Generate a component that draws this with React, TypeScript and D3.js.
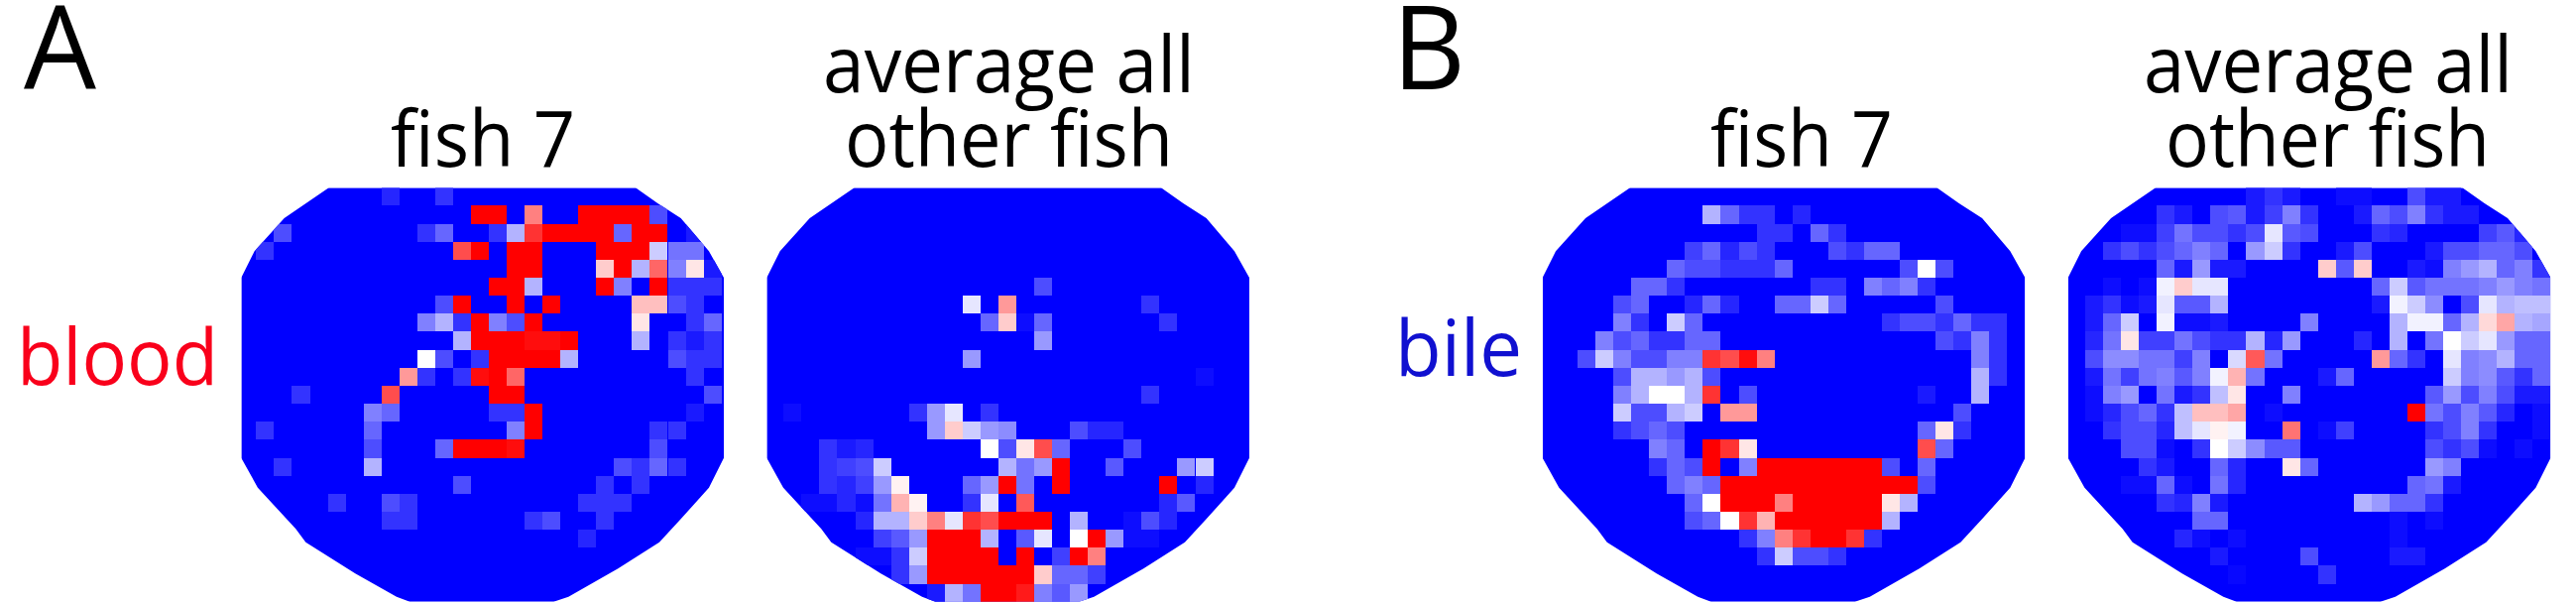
import * as d3 from "d3";

type Row = [number, number][];

// each row lists its non-zero cells as [column, level], level 0 = blue, 10 = white, 20 = red
const BLOOD_FISH: Row[] = [
  [[8, 1.5], [11, 2]],
  [[13, 20], [14, 20], [16, 15], [19, 20], [20, 20], [21, 20], [22, 20], [23, 3]],
  [[2, 3], [10, 2], [11, 4], [14, 2], [15, 7], [16, 18], [17, 20], [18, 20], [19, 20], [20, 20], [21, 4], [22, 20], [23, 20], [25, 1]],
  [[1, 2], [12, 17], [13, 20], [15, 20], [16, 20], [20, 20], [21, 20], [22, 20], [23, 8], [24, 4.5], [25, 4.5]],
  [[15, 20], [16, 20], [20, 12], [21, 20], [22, 7], [23, 16], [24, 5], [25, 11], [26, 1]],
  [[14, 20], [15, 20], [16, 7], [20, 20], [21, 5], [23, 20], [24, 2], [25, 2], [26, 2]],
  [[11, 3], [12, 20], [15, 20], [17, 20], [22, 12.5], [23, 12.5], [24, 3], [25, 2]],
  [[10, 5], [11, 7], [12, 2], [13, 20], [14, 5], [15, 3], [16, 20], [22, 11], [25, 2], [26, 4]],
  [[12, 7], [13, 20], [14, 20], [15, 20], [16, 19.5], [17, 19.5], [18, 20], [22, 7], [24, 2], [25, 1], [26, 2]],
  [[10, 10], [11, 3], [13, 2], [14, 20], [15, 20], [16, 20], [17, 20], [18, 7], [24, 3], [25, 2], [26, 2]],
  [[9, 14], [10, 2], [12, 2], [13, 19.5], [14, 20], [15, 16], [25, 2]],
  [[3, 2], [8, 17], [14, 20], [15, 20], [26, 3]],
  [[7, 5], [8, 4], [14, 2], [15, 2], [16, 20], [25, 1]],
  [[1, 2], [7, 4], [15, 5], [16, 20], [23, 2], [24, 2]],
  [[7, 3], [11, 4], [12, 20], [13, 20], [14, 20], [15, 19.5], [23, 3]],
  [[2, 2], [7, 7], [21, 3], [22, 2], [23, 4], [24, 2]],
  [[12, 3], [20, 2], [22, 2]],
  [[5, 2], [8, 3], [9, 2], [19, 2], [20, 2], [21, 2]],
  [[8, 2], [9, 2], [16, 2], [17, 3], [20, 2]],
  [[19, 1.5]],
  [],
  [],
  [],
];

const BLOOD_OTHERS: Row[] = [
  [],
  [],
  [],
  [],
  [],
  [[15, 3]],
  [[11, 9], [13, 14], [21, 2]],
  [[12, 4], [13, 12], [14, 0.5], [15, 4], [22, 2]],
  [[15, 6]],
  [[11, 6]],
  [[24, 0.5]],
  [[21, 2]],
  [[1, 0.5], [8, 2], [9, 6], [10, 9], [12, 2]],
  [[9, 6], [10, 12], [11, 8], [12, 6], [13, 5.5], [17, 3], [18, 1.5], [19, 1.5]],
  [[3, 2], [4, 1], [5, 1.5], [12, 10], [13, 3], [14, 11], [15, 17], [16, 4], [20, 3]],
  [[3, 2], [4, 2.5], [5, 3], [6, 8], [13, 7], [14, 4.5], [15, 6], [16, 20], [19, 3.5], [23, 6], [24, 8]],
  [[3, 2], [4, 1.5], [5, 2.5], [6, 6], [7, 10.5], [11, 4], [12, 6], [13, 20], [14, 4.5], [16, 20], [22, 20], [24, 1.5]],
  [[2, 0.5], [3, 0.5], [4, 1.5], [5, 0.5], [6, 4.5], [7, 13], [8, 10.5], [11, 2], [12, 9], [14, 16.5], [22, 1.5], [23, 3.5]],
  [[5, 1.5], [6, 7], [7, 7], [8, 12], [9, 15], [10, 9], [11, 18], [12, 17], [13, 20], [14, 20], [15, 20], [17, 7], [20, 0.5], [21, 3], [22, 1.5]],
  [[6, 2.5], [7, 3.5], [8, 6], [9, 20], [10, 20], [11, 20], [12, 7], [14, 3.5], [15, 9], [17, 10], [18, 20], [19, 6], [20, 0.5], [21, 0.5]],
  [[5, 0.5], [6, 0.5], [7, 2], [8, 8], [9, 20], [10, 20], [11, 20], [12, 20], [14, 20], [16, 2.5], [17, 20], [18, 15]],
  [[7, 2], [8, 6], [9, 20], [10, 20], [11, 20], [12, 20], [13, 20], [14, 20], [15, 12], [16, 4], [17, 4], [18, 2.5]],
  [[9, 1], [10, 7], [11, 4.5], [12, 20], [13, 20], [14, 19], [15, 5], [16, 3.5], [17, 6]],
];

const BILE_FISH: Row[] = [
  [],
  [[9, 7], [10, 4], [11, 2], [12, 2], [14, 1.5]],
  [[12, 2], [13, 2], [15, 4], [16, 2]],
  [[8, 2.5], [9, 4], [10, 1.5], [11, 3], [12, 2], [16, 3], [17, 2], [18, 4], [19, 4]],
  [[7, 4], [8, 3], [9, 3], [10, 2], [11, 2], [12, 2], [13, 4], [20, 3], [21, 10], [22, 3]],
  [[5, 4], [6, 4], [7, 2], [15, 2], [16, 2], [18, 5], [19, 4], [20, 5], [21, 2]],
  [[4, 3], [5, 4], [8, 1.5], [9, 4], [10, 1.5], [13, 4], [14, 4], [15, 8], [16, 4], [22, 3]],
  [[4, 5], [5, 2], [7, 8], [8, 4], [19, 2], [20, 3], [21, 3], [22, 2], [23, 4], [24, 2], [25, 2]],
  [[3, 5], [4, 3], [5, 4], [6, 2], [7, 2], [8, 4], [9, 4], [22, 3], [23, 2], [24, 5], [25, 2]],
  [[2, 3], [3, 8], [4, 5], [5, 3], [6, 3], [7, 5], [8, 5], [9, 18], [10, 17], [11, 19.5], [12, 15], [24, 5], [25, 2]],
  [[4, 3], [5, 7], [6, 7], [7, 6], [8, 7], [9, 3], [24, 7], [25, 2]],
  [[4, 5], [5, 7], [6, 10], [7, 10], [8, 7], [9, 18], [11, 3], [21, 1], [24, 7]],
  [[4, 8], [5, 3], [6, 3], [7, 7], [8, 8], [10, 14], [11, 14], [23, 3]],
  [[4, 2], [5, 3], [6, 4], [7, 3], [21, 4], [22, 11], [23, 2]],
  [[6, 5], [7, 4], [9, 20], [10, 18], [11, 11], [21, 17], [22, 4]],
  [[6, 2], [7, 4], [8, 3], [9, 20], [11, 5], [12, 20], [13, 20], [14, 20], [15, 20], [16, 20], [17, 20], [18, 20], [19, 3], [21, 4]],
  [[7, 4], [8, 5], [9, 4], [10, 20], [11, 20], [12, 20], [13, 20], [14, 20], [15, 20], [16, 20], [17, 20], [18, 20], [19, 20], [20, 20], [21, 3]],
  [[8, 4], [9, 10], [10, 20], [11, 20], [12, 20], [13, 15], [14, 20], [15, 20], [16, 20], [17, 20], [18, 20], [19, 11], [20, 7]],
  [[8, 3], [9, 4], [10, 10], [11, 18], [12, 13], [13, 20], [14, 20], [15, 20], [16, 20], [17, 20], [18, 20], [19, 7]],
  [[11, 2], [12, 5], [13, 15], [14, 18], [15, 20], [16, 20], [17, 18], [18, 2]],
  [[12, 2], [13, 8], [14, 3], [15, 3], [16, 2]],
  [],
  [],
];

const BILE_OTHERS: Row[] = [
  [[10, 1], [11, 2], [12, 1], [15, 0.5], [16, 0.5], [19, 3], [20, 1], [21, 1]],
  [[5, 2], [6, 1], [8, 3], [9, 3.5], [10, 1], [11, 2.5], [12, 5], [13, 2], [16, 1], [17, 4], [18, 3], [19, 5], [20, 2], [21, 1], [22, 1]],
  [[3, 0.5], [4, 0.5], [5, 2.5], [6, 4.5], [7, 3], [8, 3], [9, 2], [10, 3], [11, 9], [12, 3.5], [13, 3], [17, 2], [18, 1.5], [23, 2.5], [24, 3.5], [25, 1.5]],
  [[2, 2], [3, 3], [4, 2], [5, 3], [6, 4], [7, 5], [8, 4], [10, 6], [11, 8], [12, 2], [15, 1], [16, 3], [20, 1], [21, 3], [22, 3], [23, 4], [24, 4], [25, 3]],
  [[5, 4], [6, 1], [7, 6], [8, 1], [9, 1], [14, 12], [15, 3.5], [16, 12], [19, 1], [20, 0.5], [21, 5], [22, 6], [23, 7], [24, 4], [25, 5], [26, 2]],
  [[2, 0.5], [4, 0.5], [5, 9.5], [6, 12], [7, 9], [8, 9], [17, 4], [18, 8], [19, 3.5], [20, 4.5], [21, 4.5], [22, 4.5], [23, 5], [24, 6], [25, 5], [26, 4.5]],
  [[1, 1], [2, 2], [3, 0.5], [4, 1], [5, 9], [6, 3.5], [7, 3.5], [8, 7], [17, 1], [18, 9.5], [19, 8], [20, 5.5], [22, 3], [23, 9], [24, 7], [25, 7.5], [26, 7.5]],
  [[1, 1], [2, 4], [3, 8], [5, 9.5], [6, 0.5], [7, 0.5], [8, 1], [13, 5], [18, 7], [19, 9.5], [20, 9.5], [21, 4], [22, 7], [23, 11.5], [24, 13.5], [25, 7], [26, 6.5]],
  [[1, 1.5], [2, 4.5], [3, 11], [4, 2.5], [5, 2.5], [6, 4.5], [7, 3], [8, 2], [9, 2], [10, 7], [11, 1.5], [12, 6], [16, 1.5], [18, 7], [20, 4.5], [21, 10], [22, 8], [23, 9], [24, 6], [25, 4], [26, 4]],
  [[1, 3], [2, 5.5], [3, 5.5], [4, 4.5], [5, 4.5], [6, 2.5], [7, 5], [9, 8.5], [10, 16.5], [11, 4.5], [17, 14], [18, 4], [19, 2], [21, 9], [22, 5], [23, 5.5], [24, 7], [25, 4], [26, 4]],
  [[1, 1], [2, 4.5], [3, 2.5], [4, 4.5], [5, 5], [6, 3.5], [7, 5], [8, 9.5], [9, 13], [10, 4.5], [14, 1], [15, 4], [21, 8], [22, 5], [23, 5.5], [24, 3.5], [25, 2], [26, 4]],
  [[1, 0.5], [2, 5], [3, 6], [5, 4.5], [6, 1], [7, 2], [8, 7.5], [9, 11], [12, 5], [20, 3.5], [21, 6], [22, 3], [23, 5], [24, 3], [25, 1], [26, 1]],
  [[1, 0.5], [2, 1.5], [3, 3], [4, 4], [5, 2], [6, 7.5], [7, 12.5], [8, 12.5], [9, 13.5], [11, 0.5], [19, 20], [20, 4.5], [21, 3], [22, 5], [23, 3.5], [24, 1.5], [26, 0.5]],
  [[2, 2], [3, 3], [4, 3], [5, 1.5], [6, 7.5], [7, 9], [8, 10.5], [9, 9.5], [12, 15.5], [14, 0.5], [15, 2.5], [20, 2], [21, 3], [22, 5], [23, 2], [26, 0.5]],
  [[3, 3], [4, 3], [5, 0.5], [7, 2], [8, 10], [9, 8], [10, 5.5], [11, 3.5], [12, 3.5], [20, 3], [21, 2], [22, 3], [23, 0.5], [25, 0.5]],
  [[4, 2], [5, 1], [8, 4], [9, 1.5], [12, 11], [13, 4], [20, 6], [21, 5]],
  [[3, 0.5], [4, 0.5], [5, 4], [6, 0.5], [8, 4.5], [9, 1.5], [19, 4], [20, 4.5], [21, 1]],
  [[5, 2], [6, 1.5], [7, 5], [8, 1], [16, 7], [17, 6], [18, 4], [19, 4], [20, 2]],
  [[7, 4], [8, 4], [18, 0.5], [20, 0.5]],
  [[6, 1.5], [7, 0.5], [9, 0.5], [18, 0.5]],
  [[8, 1], [13, 3], [18, 1], [19, 1]],
  [[9, 0.3], [14, 2]],
  [],
];

const COLS = d3.range(27);
const ROWS = d3.range(23);
// outline of the mapped area, in units of the drawn reference crop
const OUTLINE: [number, number][] = [
  [265, 0], [1193, 0], [1260, 47], [1330, 92], [1415, 192], [1460, 272], [1460, 817], [1415, 907], [1330, 1002],
  [1265, 1072], [1140, 1152], [990, 1237], [945, 1252], [510, 1252], [470, 1237], [345, 1167], [195, 1072],
  [165, 1032], [50, 907], [0, 817], [0, 272], [40, 192], [130, 92],
];

const MAP_TOP = 189.3;
const MAP_W = 486.7;
const MAP_H = 417.4;
const CELL_W = 18.05;

const color = d3.scaleLinear<string>().domain([0, 10, 20]).range(["#0000ff", "#ffffff", "#ff0000"]);
const xOut = d3.scaleLinear().domain([0, 1460]).range([0, MAP_W]);
const yOut = d3.scaleLinear().domain([0, 1252]).range([0, MAP_H]);
const outlinePath = d3.line<[number, number]>().x((d) => xOut(d[0])).y((d) => yOut(d[1])).curve(d3.curveLinearClosed)(OUTLINE)!;

function HeatMap({ id, left, gridLeft, rows }: { id: string; left: number; gridLeft: number; rows: Row[] }) {
  const x = d3.scaleBand<number>().domain(COLS).range([gridLeft - left, gridLeft - left + CELL_W * COLS.length]);
  const y = d3.scaleBand<number>().domain(ROWS).range([0, MAP_H]);
  return (
    <g transform={`translate(${left},${MAP_TOP})`}>
      <clipPath id={id}>
        <path d={outlinePath} />
      </clipPath>
      <g clipPath={`url(#${id})`}>
        <rect x={0} y={0} width={MAP_W} height={MAP_H} fill={color(0)} />
        {rows.flatMap((cells, r) =>
          cells.map(([c, v]) => (
            <rect key={`${r}-${c}`} x={x(c)} y={y(r)} width={x.bandwidth()} height={y.bandwidth()} fill={color(v)} shapeRendering="crispEdges" />
          ))
        )}
      </g>
    </g>
  );
}

function Label({ x, y, w, size, fill = "#000", children }: { x: number; y: number; w: number; size: number; fill?: string; children: string }) {
  return (
    <text x={x} y={y} fontSize={size} fill={fill} textLength={w} lengthAdjust="spacingAndGlyphs" fontFamily="'Open Sans'">
      {children}
    </text>
  );
}

export default function App() {
  return (
    <svg width={2598} height={608} style={{ position: "absolute", left: 0, top: 0, display: "block" }}>
      <Label x={24} y={90} w={73} size={118}>A</Label>
      <Label x={1404} y={90} w={74} size={118}>B</Label>

      <Label x={394} y={168} w={186} size={79}>fish 7</Label>
      <Label x={830} y={93} w={375} size={79}>average all</Label>
      <Label x={852} y={168} w={331} size={79}>other fish</Label>
      <Label x={1725} y={168} w={184} size={79}>fish 7</Label>
      <Label x={2162} y={93} w={372} size={79}>average all</Label>
      <Label x={2184} y={168} w={327} size={79}>other fish</Label>

      <Label x={17} y={388} w={203} size={78} fill="#f9001b">blood</Label>
      <Label x={1407} y={379} w={128} size={78} fill="#1010d0">bile</Label>

      <HeatMap id="map-a1" left={243.3} gridLeft={240.3} rows={BLOOD_FISH} />
      <HeatMap id="map-a2" left={773.3} gridLeft={772.3} rows={BLOOD_OTHERS} />
      <HeatMap id="map-b1" left={1555.7} gridLeft={1555} rows={BILE_FISH} />
      <HeatMap id="map-b2" left={2085.7} gridLeft={2085} rows={BILE_OTHERS} />
    </svg>
  );
}
